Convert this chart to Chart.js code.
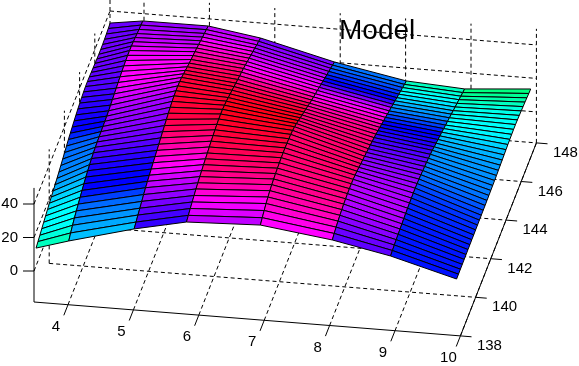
<!DOCTYPE html>
<html>
<head>
<meta charset="utf-8">
<style>html,body{margin:0;padding:0;background:#fff}canvas{display:block}</style>
<script src="https://cdn.jsdelivr.net/npm/chart.js@4"></script>
</head>
<body>
<canvas id="c" width="579" height="366"></canvas>
<script>
const titleText = "Model";
const xTicks = [4,5,6,7,8,9,10];
const yTicks = [138,140,142,144,146,148];
const zTicks = [0,20,40];
const xGrid = [3.5,4,5,5.8,6.93,8.03,8.92,9.93];
const yGrid = [138.1,138.35,138.6,138.85,139.1,139.35,139.6,139.85,140.1,140.35,140.6,140.85,141.1,141.35,141.6,141.85,142.1,142.35,142.6,142.85,143.1,143.35,143.6,143.85,144.1,144.35,144.6,144.85,145.1,145.35,145.6,145.85,146.1,146.35,146.6,146.85,147.1,147.35,147.6,147.85];
const z0 = [12.6,13.6,14.5,15.5,16.5,17.4,18.3,19.2,20,20.8,21.6,22.5,23.4,24.4,25.4,26.4,27.4,28.4,29.3,30.1,30.9,31.6,32.3,32.9,33.4,33.8,34.1,34.2,34.1,33.9,33.7,33.5,33.3,33.2,33.2,33.3,33.5,33.8,34.2,34.6];
const z1 = [18.4,20.3,22,23.5,24.8,26,27.2,28.4,29.5,30.6,31.5,32.3,33,33.6,34,34.3,34.5,34.7,34.9,35.1,35.3,35.6,36.1,36.6,37.1,37.6,38.1,38.6,39,39.4,39.7,39.9,39.9,39.7,39.4,39,38.5,38.1,37.8,37.4];
const z2 = [28.7,29.9,31.2,32.4,33.6,34.8,36,36.9,37.7,38.5,39.4,40.2,41,41.8,42.7,43.5,44.3,45.1,45.9,46.6,47.2,47.6,47.8,47.8,47.6,47.1,46.4,45.6,44.8,44.1,43.4,42.9,42.3,41.6,40.9,40.2,39.5,38.8,38.2,37.5];
const z3 = [35.3,36.4,37.6,38.6,39.6,40.6,41.4,42.2,42.9,43.6,44.2,44.8,45.5,46.1,46.6,47.1,47.5,47.8,47.9,47.8,47.4,46.9,46.2,45.5,44.8,44.1,43.3,42.6,41.9,41.2,40.5,39.7,38.8,38,37.1,36.3,35.4,34.5,33.7,32.8];
const z4 = [37,38.5,39.9,41.2,42.2,43.1,43.8,44.3,44.7,45,45.3,45.5,45.6,45.6,45.5,45.3,45,44.5,43.8,42.8,41.7,40.5,39.3,38.2,37.1,36,34.8,33.8,32.8,31.8,30.9,29.9,28.9,27.9,26.9,25.9,25,24,23,22];
const z5 = [31.5,32.5,33.4,34.1,34.7,35.2,35.6,35.9,36.1,36.2,36.2,36,35.6,35.1,34.5,33.8,33.2,32.5,31.9,31.2,30.6,29.8,29.2,28.4,27.6,26.7,25.7,24.9,24,23.1,22.1,21.3,20.3,19.5,18.5,17.7,16.7,15.9,14.9,14.1];
const z6 = [24.7,25.1,25.5,25.8,26.1,26.4,26.6,26.9,27.1,27.3,27.5,27.6,27.7,27.7,27.6,27.4,27.1,26.7,26.3,25.9,25.4,24.9,24.4,23.6,22.9,22.2,21.5,20.8,20.1,19.3,18.6,17.9,17.2,16.4,15.7,15,14.3,13.5,12.8,12.1];
const z7 = [14.1,14.1,14.2,14.2,14.3,14.3,14.4,14.4,14.5,14.5,14.6,14.6,14.7,14.7,14.8,14.8,14.9,15,15.1,15.2,15.3,15.4,15.6,15.8,16,16.2,16.4,16.6,16.8,16.9,17,17,16.9,16.7,16.5,16.2,16,15.7,15.4,15.2];
const c0 = [165,172,178,180,180,182,186,190,195,200,205,208,210,212,214,216,222,232,240,242,245,248,250,252,255,258,260,262,262,264,265,266,266,266,266,266,265,265,265];
const c1 = [195,200,205,210,215,225,235,240,240,243,246,250,255,260,265,267,270,272,274,276,278,282,286,290,294,298,300,300,300,300,298,296,294,290,286,284,282,278,275];
const c2 = [252,256,262,268,274,280,285,290,296,302,308,314,320,326,333,338,341,344,346,347,348,348,348,347,346,345,343,340,336,331,326,320,315,310,305,298,292,288,285];
const c3 = [285,292,297,302,310,318,325,328,332,335,337,340,342,344,346,348,350,352,353,354,354,352,350,347,343,338,332,325,316,308,302,298,294,290,285,280,276,272,268];
const c4 = [300,305,311,316,320,324,327,329,331,332,333,334,335,335,335,335,335,334,334,333,332,331,330,328,325,320,315,308,302,295,285,270,252,240,235,228,222,216,213];
const c5 = [262,265,268,272,276,280,281,282,282,282,281,280,279,277,275,273,271,268,265,262,259,256,252,248,245,241,240,232,225,218,210,204,198,190,185,180,176,170,165];
const c6 = [236,236,235,235,235,234,234,233,232,231,230,228,226,223,220,216,213,211,210,208,206,205,204,201,198,195,190,185,182,180,179,178,177,175,172,165,160,155,150];
const zCols = [z0,z1,z2,z3,z4,z5,z6,z7];
const cCols = [c0,c1,c2,c3,c4,c5,c6];

// axis limits and the fixed view of the 3-D box
const xLim = [3.48,10], yLim = [138,148], zLim = [-18.5,49.6];
const view = {ox:34, oy:302, xx:65.4, xy:5.2, yx:7.6, yy:-19.3, zy:-1.675};
function project(x,y,z){
  const a=x-xLim[0], b=y-yLim[0], c=z-zLim[0];
  return {x:view.ox+a*view.xx+b*view.yx, y:view.oy+a*view.xy+b*view.yy+c*view.zy};
}
const colormap = h => `hsl(${h},100%,50%)`;
const GRID_DASH=[4,3];
const datasets=[];
function addLine(a,b,dashed){
  datasets.push({data:[project(...a),project(...b)],showLine:true,pointRadius:0,borderColor:'#000',borderWidth:1,
    borderDash:dashed?GRID_DASH:[],fill:false,tension:0,backgroundColor:'transparent'});
}
const [xa,xb]=xLim,[ya,yb]=yLim,[za,zb]=zLim;
// floor grid
xTicks.forEach(t=>addLine([t,ya,za],[t,yb,za],true));
yTicks.filter(t=>t>ya).forEach(t=>addLine([xa,t,za],[xb,t,za],true));
// back wall
zTicks.forEach(t=>addLine([xa,yb,t],[xb,yb,t],true));
xTicks.forEach(t=>addLine([t,yb,za],[t,yb,zb],true));
// left wall
zTicks.forEach(t=>addLine([xa,ya,t],[xa,yb,t],true));
yTicks.filter(t=>t>ya).forEach(t=>addLine([xa,t,za],[xa,t,zb],true));
// axes
addLine([xa,ya,za],[xb,ya,za]);
addLine([xb,ya,za],[xb,yb,za]);
addLine([xa,ya,za],[xa,ya,zb]);
// ticks
const tickX=-0.55, tickY=0.17, tickZa=-0.163, tickZb=-0.044;
xTicks.forEach(t=>addLine([t,ya,za],[t,ya+tickX,za]));
yTicks.forEach(t=>addLine([xb,t,za],[xb+tickY,t,za]));
zTicks.forEach(t=>addLine([xa,ya,t],[xa+tickZa,ya+tickZb,t]));
// surface faces, far rows first
for(let r=yGrid.length-2;r>=0;r--){
  for(let c=0;c<xGrid.length-1;c++){
    const pts=[[c,r],[c+1,r],[c+1,r+1],[c,r+1],[c,r]].map(([i,j])=>project(xGrid[i],yGrid[j],zCols[i][j]));
    datasets.push({data:pts,showLine:true,pointRadius:0,borderColor:'#000',borderWidth:1,tension:0,
      fill:'shape',backgroundColor:colormap(cCols[c][r]),borderJoinStyle:'miter'});
  }
}
datasets.forEach((d,i)=>{d.order=datasets.length-i;});

const FONT='"Liberation Sans", Arial, sans-serif';
const labelsPlugin={id:'labels',afterDraw(chart){
  const {ctx,scales:{x:sx,y:sy}}=chart;
  const at=(p,dx,dy)=>[sx.getPixelForValue(p.x)+dx,sy.getPixelForValue(p.y)+dy];
  ctx.save();ctx.fillStyle='#000';ctx.font='15px '+FONT;ctx.textBaseline='middle';ctx.textAlign='center';
  xTicks.forEach(t=>{const [a,b]=at(project(t,ya,za),-12,22);ctx.fillText(String(t),a,b);});
  yTicks.forEach(t=>{const [a,b]=at(project(xb,t,za),29,10);ctx.fillText(String(t),a,b);});
  ctx.textAlign='right';
  zTicks.forEach(t=>{const [a,b]=at(project(xa,ya,t),-16,0);ctx.fillText(String(t),a,b);});
  ctx.textAlign='left';ctx.textBaseline='alphabetic';ctx.font='28px '+FONT;
  ctx.fillText(titleText,sx.getPixelForValue(339),sy.getPixelForValue(39));
  ctx.restore();
}};
new Chart(document.getElementById('c'),{
  type:'scatter',
  data:{datasets},
  options:{responsive:false,animation:false,events:[],
    layout:{padding:0},
    plugins:{legend:{display:false},tooltip:{enabled:false},title:{display:false}},
    scales:{x:{type:'linear',min:0,max:579,display:false},y:{type:'linear',min:0,max:366,reverse:true,display:false}}
  },
  plugins:[labelsPlugin]
});
</script>
</body>
</html>
